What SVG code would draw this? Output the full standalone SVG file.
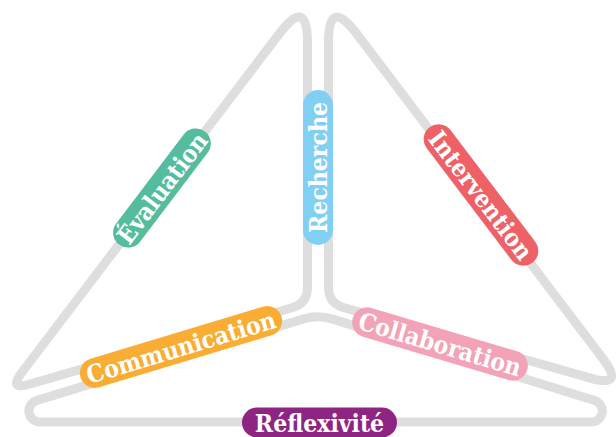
<svg xmlns="http://www.w3.org/2000/svg" width="616" height="437" viewBox="0 0 616 437">
<style>
.edge{fill:none;stroke:#dddedd;stroke-width:9;stroke-linejoin:round;stroke-linecap:round}
.lbl{font-family:"DejaVu Serif Condensed","DejaVu Serif",serif;font-stretch:condensed;font-weight:bold;font-size:24.5px;fill:#ffffff;text-anchor:middle}
</style>
<rect width="616" height="437" fill="#ffffff"/>
<g id="connectors">
<path class="edge" d="M279.7,33.2 L21.5,372.9 Q8.2,390.4 29.3,384.3 L292.1,307.8 Q307.5,303.3 307.5,287.3 L307.5,42.6 Q307.5,-3.4 279.7,33.2 Z"/>
<path class="edge" d="M356.3,33.3 L603.3,359.3 Q625,388 590.4,378.1 L343.9,307.7 Q328.5,303.3 328.5,287.3 L328.5,42.6 Q328.5,-3.4 356.3,33.3 Z"/>
<path class="edge" d="M303.3,319 A50,50 0 0 1 332.7,319.1 L594.6,400.5 A11,11 0 0 1 591.3,422 L40.2,422 A11,11 0 0 1 37,400.4 Z"/>
</g>
<g id="evaluation" transform="translate(162,188) rotate(-52.8)">
<rect x="-71" y="-15" width="142" height="30" rx="15" fill="#56bc9e"/>
<text class="lbl" x="0" y="9">Évaluation</text>
</g>
<g id="recherche" transform="translate(318,167.5) rotate(-90)">
<rect x="-77.5" y="-15" width="155" height="30" rx="15" fill="#82cff4"/>
<text class="lbl" x="0" y="9">Recherche</text>
</g>
<g id="intervention" transform="translate(481,195) rotate(52.8)">
<rect x="-85" y="-15" width="170" height="30" rx="15" fill="#ee6166"/>
<text class="lbl" x="0" y="9">Intervention</text>
</g>
<g id="communication" transform="translate(181,347) rotate(-16.8)">
<rect x="-105" y="-15" width="210" height="30" rx="15" fill="#f9ad34"/>
<text class="lbl" x="0" y="9">Communication</text>
</g>
<g id="collaboration" transform="translate(440,344) rotate(16.6)">
<rect x="-91" y="-15" width="182" height="30" rx="15" fill="#f3a3b7"/>
<text class="lbl" x="0" y="9">Collaboration</text>
</g>
<g id="reflexivite" transform="translate(319.5,422.5)">
<rect x="-77.5" y="-15" width="155" height="30" rx="15" fill="#8e2583"/>
<text class="lbl" x="0" y="9">Réflexivité</text>
</g>
</svg>
